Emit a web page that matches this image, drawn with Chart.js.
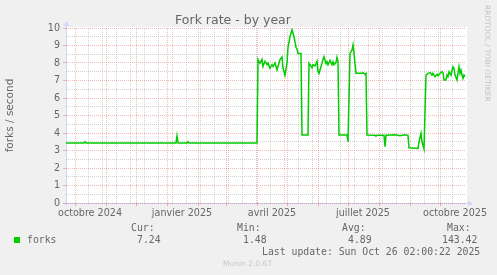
<!DOCTYPE html>
<html><head><meta charset="utf-8">
<script src="https://cdn.jsdelivr.net/npm/chart.js@4/dist/chart.umd.min.js"></script>
<style>
html,body{margin:0;padding:0;background:#f0f0f0;}
#wrap{position:relative;width:497px;height:275px;overflow:hidden;background:#f0f0f0;}
#c{position:absolute;left:0;top:0;}
.m{position:absolute;white-space:pre;font-family:"DejaVu Sans Mono",monospace;font-size:9.8px;line-height:9.8px;color:#666;}
.s{position:absolute;white-space:pre;font-family:"DejaVu Sans",sans-serif;font-size:7.5px;line-height:7.5px;}
</style></head>
<body>
<div id="wrap">
<canvas id="c" width="497" height="275" style="width:497px;height:275px"></canvas>
<div style="position:absolute;left:14px;top:237px;width:6px;height:6px;background:#00cc00"></div>
<div class="m" style="left:27px;top:235px">forks</div>
<div class="m" style="left:131px;top:223.4px">Cur:</div>
<div class="m" style="left:137px;top:235px">7.24</div>
<div class="m" style="left:237px;top:223.4px">Min:</div>
<div class="m" style="left:243px;top:235px">1.48</div>
<div class="m" style="left:342px;top:223.4px">Avg:</div>
<div class="m" style="left:348px;top:235px">4.89</div>
<div class="m" style="left:447px;top:223.4px">Max:</div>
<div class="m" style="left:442px;top:235px">143.42</div>
<div class="m" style="left:262px;top:246.7px">Last update: Sun Oct 26 02:00:22 2025</div>
<div class="s" style="left:223px;top:259.6px;color:#c8c8c8">Munin 2.0.67</div>
<div class="s" style="left:491.4px;top:5px;color:#c4c4c4;transform:rotate(90deg);transform-origin:0 0">RRDTOOL / TOBI OETIKER</div>
</div>
<script>
// day index 0 = 22 Sep 2024 (400-day window ending 26 Oct 2025)
const days = [0,18,19,20,110,111,112,121,122,123,191,
  192,194,196,197,199,201,202,204,206,207,209,211,212,214,216,217,219,
  221,222,224,226,228,230,231,232,235,236,242,
  243,244,246,247,249,251,252,253,254,256,257,258,
  260,261,262,264,266,267,268,270,271,272,273,281,282,
  284,286,287,288,290,296,297,299,300,301,
  309,310,311,318,319,320,329,334,339,342,343,352,353,355,356,358,
  360,362,364,366,367,369,371,372,374,376,377,378,380,381,382,383,
  385,386,387,388,389,391,392,393,394,395,396,397,398,399];
const forks = [3.43,3.43,3.5,3.43,3.43,3.83,3.43,3.43,3.5,3.43,3.43,
  8.2,7.98,8.2,7.8,8.1,7.9,8.0,7.7,7.9,7.8,8.0,7.6,7.8,8.2,8.35,7.7,7.3,
  8.0,8.9,9.5,9.9,9.5,8.9,8.8,8.55,8.55,3.89,3.89,
  7.98,7.9,7.73,7.9,7.83,8.1,7.5,7.4,7.6,7.98,8.2,8.36,
  7.98,8.07,7.9,8.15,7.9,8.07,7.9,8.03,8.33,8.1,3.89,3.89,3.5,
  8.55,8.74,9.03,8.55,7.41,7.41,7.45,7.35,7.4,3.89,
  3.87,3.82,3.87,3.87,3.22,3.87,3.9,3.85,3.9,3.87,3.16,3.12,3.5,3.98,3.5,3.1,
  7.31,7.41,7.45,7.31,7.41,7.22,7.36,7.27,7.41,7.5,7.45,7.03,7.03,7.31,7.22,7.5,
  7.31,7.6,7.79,7.7,7.31,7.03,7.41,7.79,7.41,7.6,7.31,7.12,7.31,7.22];
const monthStarts = [9,40,70,101,132,160,191,221,252,282,313,344,374];
const minorDays = [22,36,50,64,78,92,106,120,134,148,162,176,190,204,218,232,246,260,274,288,302,316,330,358,372,386];
const labelDays = [9,101,191,282,374];
const labelTexts = ['octobre 2024','janvier 2025','avril 2025','juillet 2025','octobre 2025'];
const yTickValues = [0,0.5,1,1.5,2,2.5,3,3.5,4,4.5,5,5.5,6,6.5,7,7.5,8,8.5,9,9.5,10];

const RED = 'rgba(222,79,79,0.4)';
const GRAY = 'rgba(143,143,143,0.38)';
const AXIS = '#CFD6F8';
Chart.defaults.font.family = '"DejaVu Sans", sans-serif';

const bgPlugin = {
  id: 'bg',
  beforeDraw(chart) {
    const {ctx, chartArea: a} = chart;
    ctx.save();
    ctx.fillStyle = '#f0f0f0';
    ctx.fillRect(0, 0, chart.width, chart.height);
    ctx.fillStyle = '#ffffff';
    ctx.fillRect(a.left, a.top - 1, a.right - a.left + 1, a.bottom - a.top + 1);
    ctx.strokeStyle = AXIS; ctx.fillStyle = AXIS; ctx.lineWidth = 1;
    ctx.beginPath();
    ctx.moveTo(a.left + 0.5, a.bottom + 3); ctx.lineTo(a.left + 0.5, a.top - 3);
    ctx.moveTo(a.left - 3, a.bottom + 0.5); ctx.lineTo(a.right + 3, a.bottom + 0.5);
    ctx.stroke();
    ctx.beginPath();
    ctx.moveTo(a.left + 0.5, a.top - 7); ctx.lineTo(a.left - 2.5, a.top - 2); ctx.lineTo(a.left + 3.5, a.top - 2); ctx.closePath();
    ctx.fill();
    ctx.beginPath();
    ctx.moveTo(a.right + 7, a.bottom + 0.5); ctx.lineTo(a.right + 2, a.bottom - 2.5); ctx.lineTo(a.right + 2, a.bottom + 3.5); ctx.closePath();
    ctx.fill();
    ctx.restore();
  }
};

new Chart(document.getElementById('c'), {
  type: 'line',
  data: {
    datasets: [{
      label: 'forks',
      data: days.map((d, i) => ({x: d, y: forks[i]})),
      borderColor: '#00cc00',
      borderWidth: 1.5,
      pointRadius: 0,
      tension: 0,
      fill: false
    }]
  },
  options: {
    responsive: false,
    devicePixelRatio: 1,
    animation: false,
    layout: {padding: {left: 0, right: 31, top: 0, bottom: 0}},
    plugins: {
      legend: {display: false},
      tooltip: {enabled: false},
      title: {
        display: true,
        text: 'Fork rate - by year',
        color: '#666',
        font: {size: 12.5, weight: 'normal'},
        padding: {top: 13, bottom: 0}
      }
    },
    scales: {
      x: {
        type: 'linear',
        min: 0, max: 400,
        afterFit(s) { s.height = 72; },
        afterBuildTicks(s) {
          const v = monthStarts.concat(minorDays.filter(d => !monthStarts.includes(d))).sort((a, b) => a - b);
          s.ticks = v.map(x => ({value: x}));
        },
        ticks: {
          autoSkip: false, maxRotation: 0, minRotation: 0,
          labelOffset: 15, padding: 2, color: '#666',
          font: {size: 9.6},
          callback(v) { const i = labelDays.indexOf(v); return i >= 0 ? labelTexts[i] : ''; }
        },
        grid: {
          color: c => monthStarts.includes(c.tick.value) ? RED : GRAY,
          tickColor: c => monthStarts.includes(c.tick.value) ? RED : 'rgba(0,0,0,0)',
          tickLength: 3, lineWidth: 1
        },
        border: {display: false, dash: [1, 1]}
      },
      y: {
        type: 'linear',
        min: 0, max: 10,
        afterFit(s) { s.width = 66; },
        afterBuildTicks(s) { s.ticks = yTickValues.map(v => ({value: v})); },
        ticks: {
          autoSkip: false, padding: 3, color: '#666',
          font: {size: 9.6},
          callback(v) { return Number.isInteger(v) ? String(v) : ''; }
        },
        grid: {
          color: c => Number.isInteger(c.tick.value) ? RED : GRAY,
          tickColor: c => Number.isInteger(c.tick.value) ? RED : 'rgba(0,0,0,0)',
          tickLength: 3, lineWidth: 1
        },
        border: {display: false, dash: [1, 1]},
        title: {
          display: true, text: 'forks / second', color: '#666',
          font: {size: 10.5}, padding: {top: 4, bottom: 0}
        }
      }
    }
  },
  plugins: [bgPlugin]
});
</script>
</body></html>
